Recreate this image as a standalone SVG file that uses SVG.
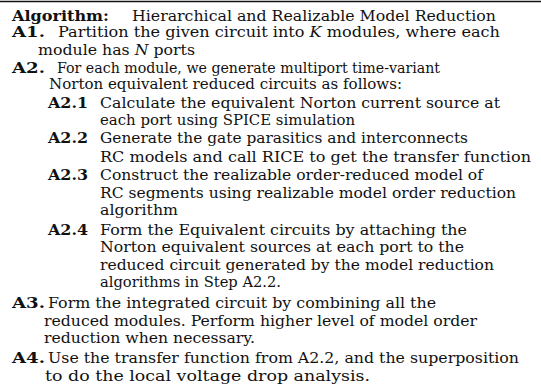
<svg xmlns="http://www.w3.org/2000/svg" width="541" height="392" viewBox="0 0 541 392">
<style>
text{font-family:"DejaVu Serif","Liberation Serif",serif;font-size:14px;fill:#111}
.b{font-weight:bold}
.i{font-style:italic}
</style>
<rect width="541" height="392" fill="#fff"/>
<line x1="0" y1="1.5" x2="541" y2="1.5" stroke="#111" stroke-width="1.6"/>
<g id="header"><text x="12" y="21" class="b" textLength="97" lengthAdjust="spacingAndGlyphs">Algorithm:</text><text x="132" y="21" textLength="364" lengthAdjust="spacingAndGlyphs">Hierarchical and Realizable Model Reduction</text></g>
<g id="A1"><text x="12" y="37" class="b" textLength="33" lengthAdjust="spacingAndGlyphs">A1.</text><text x="58" y="37" textLength="442" lengthAdjust="spacingAndGlyphs">Partition the given circuit into <tspan class="i">K</tspan> modules, where each</text><text x="38" y="55" textLength="157" lengthAdjust="spacingAndGlyphs">module has <tspan class="i">N</tspan> ports</text></g>
<g id="A2"><text x="12" y="73" class="b" textLength="33" lengthAdjust="spacingAndGlyphs">A2.</text><text x="57" y="73" textLength="383" lengthAdjust="spacingAndGlyphs">For each module, we generate multiport time-variant</text><text x="49" y="89" textLength="353" lengthAdjust="spacingAndGlyphs">Norton equivalent reduced circuits as follows:</text></g>
<g id="A2.1"><text x="48" y="108" class="b" textLength="40" lengthAdjust="spacingAndGlyphs">A2.1</text><text x="100" y="108" textLength="400" lengthAdjust="spacingAndGlyphs">Calculate the equivalent Norton current source at</text><text x="100" y="125" textLength="255" lengthAdjust="spacingAndGlyphs">each port using SPICE simulation</text></g>
<g id="A2.2"><text x="48" y="143" class="b" textLength="40" lengthAdjust="spacingAndGlyphs">A2.2</text><text x="100" y="143" textLength="368" lengthAdjust="spacingAndGlyphs">Generate the gate parasitics and interconnects</text><text x="100" y="162" textLength="431" lengthAdjust="spacingAndGlyphs">RC models and call RICE to get the transfer function</text></g>
<g id="A2.3"><text x="48" y="180" class="b" textLength="40" lengthAdjust="spacingAndGlyphs">A2.3</text><text x="100" y="180" textLength="383" lengthAdjust="spacingAndGlyphs">Construct the realizable order-reduced model of</text><text x="100" y="198" textLength="416" lengthAdjust="spacingAndGlyphs">RC segments using realizable model order reduction</text><text x="100" y="215" textLength="78" lengthAdjust="spacingAndGlyphs">algorithm</text></g>
<g id="A2.4"><text x="48" y="235" class="b" textLength="40" lengthAdjust="spacingAndGlyphs">A2.4</text><text x="100" y="235" textLength="367" lengthAdjust="spacingAndGlyphs">Form the Equivalent circuits by attaching the</text><text x="100" y="252" textLength="364" lengthAdjust="spacingAndGlyphs">Norton equivalent sources at each port to the</text><text x="100" y="270" textLength="394" lengthAdjust="spacingAndGlyphs">reduced circuit generated by the model reduction</text><text x="100" y="287" textLength="181" lengthAdjust="spacingAndGlyphs">algorithms in Step A2.2.</text></g>
<g id="A3"><text x="12" y="308" class="b" textLength="33" lengthAdjust="spacingAndGlyphs">A3.</text><text x="48" y="308" textLength="388" lengthAdjust="spacingAndGlyphs">Form the integrated circuit by combining all the</text><text x="44" y="326" textLength="433" lengthAdjust="spacingAndGlyphs">reduced modules. Perform higher level of model order</text><text x="44" y="343" textLength="211" lengthAdjust="spacingAndGlyphs">reduction when necessary.</text></g>
<g id="A4"><text x="12" y="363" class="b" textLength="33" lengthAdjust="spacingAndGlyphs">A4.</text><text x="48" y="363" textLength="471" lengthAdjust="spacingAndGlyphs">Use the transfer function from A2.2, and the superposition</text><text x="45" y="381" textLength="325" lengthAdjust="spacingAndGlyphs">to do the local voltage drop analysis.</text></g>
</svg>
